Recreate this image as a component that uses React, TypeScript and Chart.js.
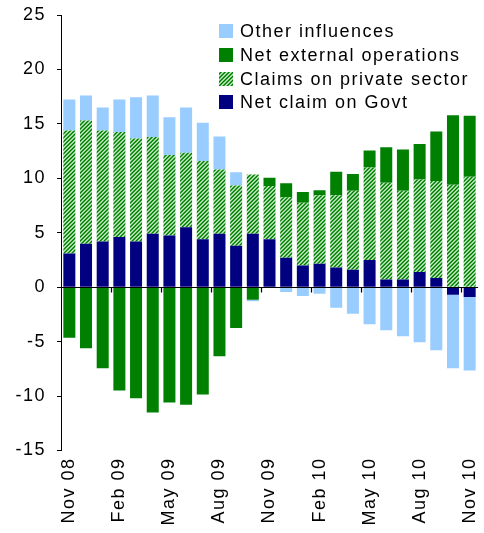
import React, { useEffect, useRef } from 'react';
import { Chart, registerables } from 'chart.js';

Chart.register(...registerables);

const categories = [
  'Nov 08', 'Dec 08', 'Jan 09', 'Feb 09', 'Mar 09', 'Apr 09', 'May 09', 'Jun 09', 'Jul 09',
  'Aug 09', 'Sep 09', 'Oct 09', 'Nov 09', 'Dec 09', 'Jan 10', 'Feb 10', 'Mar 10', 'Apr 10',
  'May 10', 'Jun 10', 'Jul 10', 'Aug 10', 'Sep 10', 'Oct 10', 'Nov 10',
];

const netClaimOnGovt = [
  3.1, 4.0, 4.2, 4.6, 4.2, 4.9, 4.75, 5.5, 4.4, 4.9, 3.8, 4.9, 4.4,
  2.7, 2.0, 2.15, 1.8, 1.6, 2.5, 0.7, 0.7, 1.4, 0.85, -0.7, -0.9,
];

const claimsOnPrivateSector = [
  11.3, 11.3, 10.2, 9.65, 9.45, 8.9, 7.4, 6.85, 7.2, 5.9, 5.55, 5.45, 4.9,
  5.55, 5.75, 6.3, 6.65, 7.25, 8.5, 8.9, 8.15, 8.5, 8.9, 9.4, 10.15,
];

const netExternalOperations = [
  -4.65, -5.6, -7.45, -9.5, -10.2, -11.5, -10.6, -10.8, -9.85, -6.35, -3.75, -1.15, 0.75,
  1.3, 1.0, 0.45, 2.15, 1.55, 1.55, 3.25, 3.8, 3.25, 4.55, 6.4, 5.6,
];

const otherInfluences = [
  2.85, 2.3, 2.1, 3.0, 3.8, 3.8, 3.45, 4.15, 3.5, 3.05, 1.2, -0.15, 0,
  -0.45, -0.8, -0.6, -1.9, -2.45, -3.4, -3.95, -4.5, -5.05, -5.8, -6.75, -6.75,
];

const yMin = -15;
const yMax = 25;
const yStep = 5;
const labelEvery = 3;

const NAVY = '#000080';
const GREEN = '#008000';
const LIGHT_BLUE = '#99ccff';
const FONT = '"Liberation Sans", Arial, sans-serif';

function makeHatch(ctx: CanvasRenderingContext2D): CanvasPattern | string {
  const tile = document.createElement('canvas');
  tile.width = 4;
  tile.height = 4;
  const g = tile.getContext('2d');
  if (!g) return GREEN;
  const cols = ['#008000', '#3f9f3f', '#c4ecc4', '#80c880'];
  for (let y = 0; y < 4; y++) {
    for (let x = 0; x < 4; x++) {
      g.fillStyle = cols[(x + y) % 4];
      g.fillRect(x, y, 1, 1);
    }
  }
  return ctx.createPattern(tile, 'repeat') || GREEN;
}

export default function App() {
  const ref = useRef<HTMLCanvasElement | null>(null);

  useEffect(() => {
    const canvas = ref.current;
    if (!canvas) return;
    const ctx = canvas.getContext('2d');
    if (!ctx) return;
    const hatch = makeHatch(ctx);

    Chart.defaults.color = '#000';
    Chart.defaults.font.family = FONT;
    Chart.defaults.font.size = 18;

    const spacingPlugin = {
      id: 'spacing',
      beforeLayout(chart: any) {
        chart.ctx.letterSpacing = '1.5px';
      },
      beforeDraw(chart: any) {
        chart.ctx.letterSpacing = '1.5px';
      },
    };

    const zeroLinePlugin = {
      id: 'zeroLine',
      afterDatasetsDraw(chart: any) {
        const { ctx: c, chartArea, scales } = chart;
        const xs = scales.x;
        const ys = scales.y;
        const y0 = Math.round(ys.getPixelForValue(0)) + 0.5;
        c.save();
        c.strokeStyle = '#000';
        c.lineWidth = 1.2;
        c.beginPath();
        c.moveTo(chartArea.left, y0);
        c.lineTo(chartArea.right, y0);
        for (let i = labelEvery; i < categories.length; i += labelEvery) {
          const x = Math.round((xs.getPixelForValue(i - 1) + xs.getPixelForValue(i)) / 2) + 0.5;
          c.moveTo(x, y0);
          c.lineTo(x, y0 + 5);
        }
        c.stroke();
        c.restore();
      },
    };

    const legendPlugin = {
      id: 'customLegend',
      afterDraw(chart: any) {
        const { ctx: c, chartArea } = chart;
        const ds = chart.data.datasets.slice().reverse();
        const x0 = chartArea.left + 158;
        const yStart = chartArea.top + 16;
        const rowH = 23.8;
        c.save();
        c.letterSpacing = '1.5px';
        c.font = `18px ${FONT}`;
        c.textBaseline = 'middle';
        c.textAlign = 'left';
        ds.forEach((d: any, i: number) => {
          const y = yStart + i * rowH;
          c.fillStyle = d.backgroundColor;
          c.fillRect(x0, Math.round(y - 7), 14, 14);
          c.fillStyle = '#000';
          c.fillText(d.label, x0 + 21, y + 1);
        });
        c.restore();
      },
    };

    const chart = new Chart(canvas, {
      type: 'bar',
      data: {
        labels: categories,
        datasets: [
          { label: 'Net claim on Govt', data: netClaimOnGovt, backgroundColor: NAVY },
          { label: 'Claims on private sector', data: claimsOnPrivateSector, backgroundColor: hatch as any },
          { label: 'Net external operations', data: netExternalOperations, backgroundColor: GREEN },
          { label: 'Other influences', data: otherInfluences, backgroundColor: LIGHT_BLUE },
        ],
      },
      options: {
        animation: false,
        responsive: false,
        maintainAspectRatio: false,
        layout: { padding: { top: 15, right: 6, bottom: 0, left: 0 } },
        datasets: {
          bar: { barPercentage: 1, categoryPercentage: 0.72, borderWidth: 0 },
        },
        plugins: {
          legend: { display: false },
          tooltip: { enabled: false },
        },
        scales: {
          x: {
            stacked: true,
            offset: true,
            grid: { display: false, drawTicks: false },
            border: { display: false },
            ticks: {
              autoSkip: false,
              maxRotation: 90,
              minRotation: 90,
              padding: 7,
              color: '#000',
              font: { size: 18, family: FONT },
              callback: (_v: any, i: number) => (i % labelEvery === 0 ? categories[i] : ''),
            },
            afterFit(scale: any) {
              scale.height = 82.5;
              scale.paddingLeft = 0;
              scale.paddingRight = 0;
            },
          },
          y: {
            stacked: true,
            min: yMin,
            max: yMax,
            ticks: {
              stepSize: yStep,
              padding: 11,
              color: '#000',
              font: { size: 18, family: FONT },
            },
            grid: {
              drawOnChartArea: false,
              drawTicks: true,
              tickLength: 4,
              tickColor: '#000',
              color: '#000',
            },
            border: { display: true, color: '#000', width: 1 },
            afterFit(scale: any) {
              scale.width = 61;
              scale.paddingTop = 0;
              scale.paddingBottom = 0;
            },
          },
        },
      },
      plugins: [spacingPlugin, zeroLinePlugin, legendPlugin],
    });

    return () => {
      chart.destroy();
    };
  }, []);

  return (
    <div style={{ position: 'fixed', left: 0, top: 0, width: 484, height: 533, background: '#fff' }}>
      <canvas ref={ref} width={484} height={533} style={{ display: 'block', width: 484, height: 533 }} />
    </div>
  );
}
